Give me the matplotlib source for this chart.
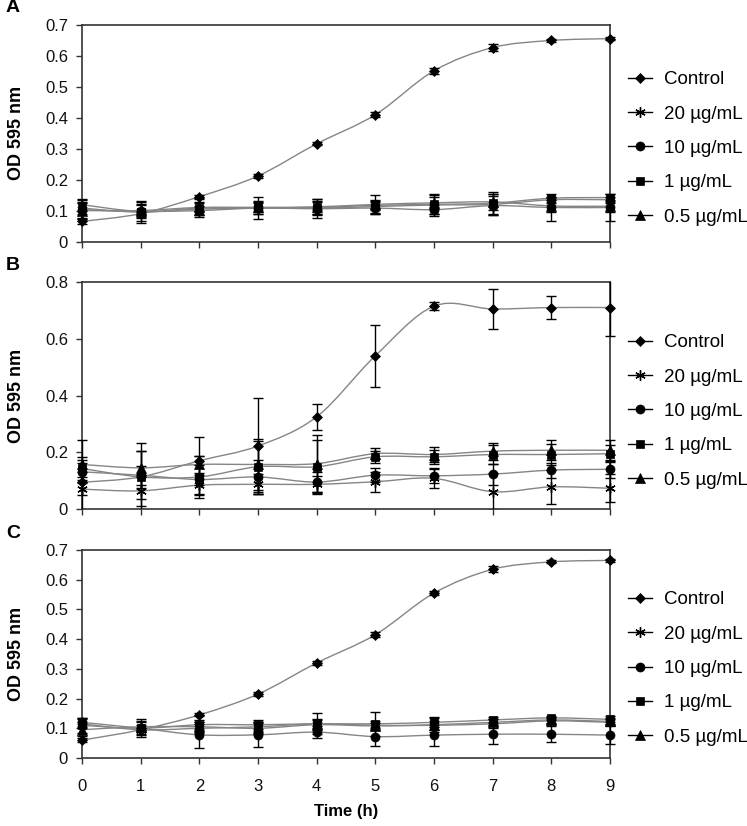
import numpy as np
import matplotlib
matplotlib.use('Agg')
import matplotlib.pyplot as plt
from matplotlib.path import Path
from matplotlib.patches import PathPatch, Rectangle
from matplotlib.lines import Line2D
from matplotlib.ticker import FormatStrFormatter, MultipleLocator

plt.rcParams['font.family'] = ['Liberation Sans', 'DejaVu Sans']

time_h = [0, 1, 2, 3, 4, 5, 6, 7, 8, 9]
series_labels = ['Control', '20 µg/mL', '10 µg/mL', '1 µg/mL', '0.5 µg/mL']

# ---- Panel A ----
a_control = [0.065, 0.090, 0.145, 0.212, 0.316, 0.410, 0.552, 0.627, 0.650, 0.656]
a_control_err = [0.008, 0.005, 0.006, 0.006, 0.005, 0.008, 0.010, 0.012, 0.005, 0.004]
a_20 = [0.119, 0.097, 0.105, 0.108, 0.108, 0.113, 0.118, 0.120, 0.135, 0.135]
a_20_err = [0.020, 0.030, 0.020, 0.020, 0.020, 0.020, 0.035, 0.035, 0.010, 0.010]
a_10 = [0.103, 0.097, 0.100, 0.108, 0.106, 0.108, 0.103, 0.116, 0.110, 0.110]
a_10_err = [0.030, 0.020, 0.015, 0.035, 0.030, 0.020, 0.015, 0.030, 0.045, 0.045]
a_1 = [0.108, 0.095, 0.108, 0.110, 0.110, 0.117, 0.120, 0.124, 0.140, 0.142]
a_1_err = [0.020, 0.035, 0.020, 0.015, 0.020, 0.015, 0.030, 0.035, 0.005, 0.010]
a_05 = [0.100, 0.100, 0.110, 0.110, 0.112, 0.120, 0.125, 0.128, 0.115, 0.114]
a_05_err = [0.025, 0.020, 0.030, 0.020, 0.025, 0.030, 0.020, 0.025, 0.020, 0.020]

# ---- Panel B ----
b_control = [0.094, 0.113, 0.170, 0.222, 0.325, 0.540, 0.715, 0.705, 0.710, 0.710]
b_control_err = [0.150, 0.120, 0.084, 0.170, 0.045, 0.110, 0.015, 0.070, 0.040, 0.100]
b_20 = [0.070, 0.064, 0.084, 0.087, 0.087, 0.096, 0.108, 0.061, 0.078, 0.073]
b_20_err = [0.020, 0.055, 0.035, 0.035, 0.030, 0.035, 0.035, 0.065, 0.060, 0.050]
b_10 = [0.131, 0.119, 0.104, 0.113, 0.095, 0.119, 0.117, 0.123, 0.137, 0.140]
b_10_err = [0.030, 0.085, 0.050, 0.060, 0.035, 0.025, 0.025, 0.037, 0.026, 0.030]
b_1 = [0.143, 0.113, 0.113, 0.149, 0.149, 0.184, 0.184, 0.192, 0.192, 0.195]
b_1_err = [0.030, 0.040, 0.075, 0.090, 0.095, 0.022, 0.025, 0.033, 0.038, 0.030]
b_05 = [0.157, 0.145, 0.157, 0.157, 0.160, 0.195, 0.192, 0.204, 0.207, 0.207]
b_05_err = [0.025, 0.060, 0.030, 0.090, 0.100, 0.020, 0.027, 0.030, 0.035, 0.035]

# ---- Panel C ----
c_control = [0.060, 0.095, 0.145, 0.215, 0.320, 0.415, 0.555, 0.635, 0.660, 0.665]
c_control_err = [0.006, 0.006, 0.005, 0.006, 0.006, 0.008, 0.008, 0.010, 0.005, 0.004]
c_20 = [0.115, 0.095, 0.100, 0.105, 0.115, 0.110, 0.110, 0.115, 0.125, 0.120]
c_20_err = [0.015, 0.015, 0.015, 0.015, 0.015, 0.015, 0.015, 0.015, 0.010, 0.010]
c_10 = [0.120, 0.100, 0.078, 0.078, 0.087, 0.072, 0.077, 0.080, 0.080, 0.077]
c_10_err = [0.015, 0.030, 0.043, 0.040, 0.020, 0.030, 0.035, 0.032, 0.027, 0.030]
c_1 = [0.110, 0.100, 0.112, 0.112, 0.115, 0.115, 0.120, 0.128, 0.135, 0.130]
c_1_err = [0.025, 0.023, 0.015, 0.015, 0.035, 0.040, 0.015, 0.010, 0.008, 0.010]
c_05 = [0.095, 0.105, 0.105, 0.100, 0.112, 0.108, 0.112, 0.120, 0.128, 0.123]
c_05_err = [0.020, 0.015, 0.015, 0.020, 0.015, 0.010, 0.025, 0.010, 0.010, 0.010]

panels = [
    ('A', 0.7, 0.1, [a_control, a_20, a_10, a_1, a_05],
     [a_control_err, a_20_err, a_10_err, a_1_err, a_05_err]),
    ('B', 0.8, 0.2, [b_control, b_20, b_10, b_1, b_05],
     [b_control_err, b_20_err, b_10_err, b_1_err, b_05_err]),
    ('C', 0.7, 0.1, [c_control, c_20, c_10, c_1, c_05],
     [c_control_err, c_20_err, c_10_err, c_1_err, c_05_err]),
]

markers = ['D', (6, 2, 0), 'o', 's', '^']
marker_sizes = [4.8, 7.5, 6.5, 6, 6.5]

W, H = 747, 826
fig = plt.figure(figsize=(W / 100, H / 100), dpi=100)

# axes pixel extents (left, right, top, bottom)
ax_px = [(82, 610, 25, 241.5), (82, 610, 282, 509), (82, 610, 550, 758)]


def smooth_path(x, y):
    pts = np.column_stack([np.asarray(x, float), np.asarray(y, float)])
    n = len(pts)
    verts = [pts[0]]
    codes = [Path.MOVETO]
    for i in range(n - 1):
        p0 = pts[i - 1] if i > 0 else pts[i]
        p1 = pts[i]
        p2 = pts[i + 1]
        p3 = pts[i + 2] if i + 2 < n else pts[i + 1]
        c1 = p1 + (p2 - p0) / 6.0
        c2 = p2 - (p3 - p1) / 6.0
        verts += [c1, c2, p2]
        codes += [Path.CURVE4] * 3
    return Path(verts, codes)


for k, (letter, ymax, ystep, vals, errs) in enumerate(panels):
    l, r, t, b = ax_px[k]
    ax = fig.add_axes([l / W, 1 - b / H, (r - l) / W, (b - t) / H])
    ax.set_xlim(0, 9)
    ax.set_ylim(0, ymax)
    clip_rect = Rectangle((-0.05, 0), 1.1, 1.0, transform=ax.transAxes,
                          facecolor='none', edgecolor='none')
    for i, (v, e) in enumerate(zip(vals, errs)):
        ax.add_patch(PathPatch(smooth_path(time_h, v), facecolor='none',
                               edgecolor='#858585', lw=1.0, zorder=2))
        cont = ax.errorbar(time_h, v, yerr=e, fmt='none', ecolor='black',
                           elinewidth=1.0, capsize=3.5, capthick=1.0, zorder=3)
        for art in cont.get_children():
            art.set_clip_path(clip_rect)
        ax.plot(time_h, v, linestyle='none', marker=markers[i],
                markersize=marker_sizes[i], color='black',
                markeredgecolor='black', markeredgewidth=1.0 if i == 1 else 0.5,
                clip_on=False, zorder=4)

    for sp in ax.spines.values():
        sp.set_color('#333333')
        sp.set_linewidth(1.2)
    ax.xaxis.set_major_locator(MultipleLocator(1))
    ax.yaxis.set_major_locator(MultipleLocator(ystep))
    ax.yaxis.set_major_formatter(FormatStrFormatter('%g'))
    ax.tick_params(axis='both', direction='out', length=4, width=1.0,
                   color='#333333', labelsize=12, labelcolor='#111111')
    ax.tick_params(axis='y', pad=6)
    ax.tick_params(axis='x', pad=11)
    if k < 2:
        ax.tick_params(axis='x', labelbottom=False)
    else:
        ax.set_xlabel('Time (h)', fontsize=12, fontweight='bold', labelpad=7)

    ax.set_ylabel('OD 595 nm', fontsize=13, fontweight='bold')
    ax.yaxis.set_label_coords(-57 / (r - l), 0.5)

    fig.text(13 / W, 1 - (t - 17) / H, letter, fontsize=14,
             fontweight='bold', ha='center', va='center')

    handles = [Line2D([], [], color='black', lw=1.0, marker=markers[i],
                      markersize=marker_sizes[i], markeredgewidth=1.0 if i == 1 else 0.5)
               for i in range(5)]
    ax.legend(handles, series_labels, loc='center left',
              bbox_to_anchor=(1.0, 0.43), frameon=False, fontsize=13.5,
              labelspacing=0.92, handlelength=1.3, handletextpad=0.6,
              borderaxespad=0.56)

fig.savefig('out.png', dpi=100)
